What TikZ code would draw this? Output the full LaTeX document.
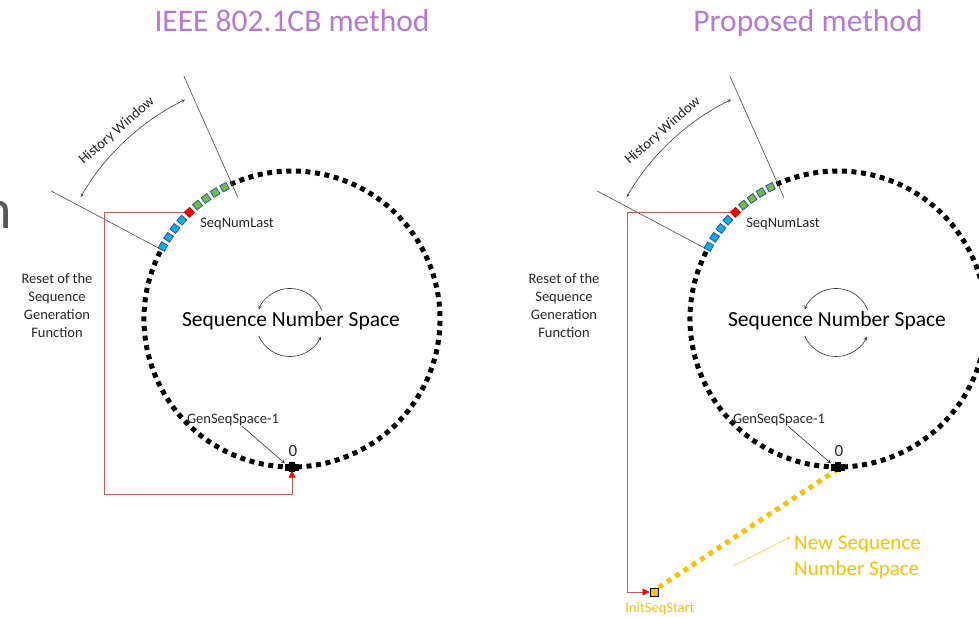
\documentclass[tikz,border=0pt]{standalone}
\usepackage{fontspec}
\setmainfont{Carlito}
\usetikzlibrary{arrows.meta}

\definecolor{titlepurple}{RGB}{180,120,215}
\definecolor{seqblue}{RGB}{0,176,240}
\definecolor{seqgreen}{RGB}{112,190,70}
\definecolor{sqborder}{RGB}{47,85,151}
\definecolor{resetred}{RGB}{205,90,90}
\definecolor{newgold}{RGB}{255,192,0}

\tikzset{ring/.style={line width=5pt,dash pattern=on 5pt off 4.6pt}}
\tikzset{bluesq/.style={draw=sqborder,fill=seqblue,line width=0.8pt,minimum size=7pt,inner sep=0pt}}
\tikzset{greensq/.style={bluesq,fill=seqgreen}}
\tikzset{redsq/.style={draw=red!80!black,fill=red,line width=0.8pt,minimum size=7pt,inner sep=0pt}}
\tikzset{lbl/.style={font=\fontsize{14.5}{18}\selectfont,text=black!85,inner sep=0pt}}
\tikzset{headline/.style={font=\fontsize{31.5}{36}\selectfont,text=titlepurple,anchor=base}}
\tikzset{spacelbl/.style={font=\fontsize{21.5}{26}\selectfont,text=black,inner sep=0pt}}
\tikzset{ptr/.style={draw=black!80,line width=0.6pt,-stealth}}
\tikzset{winarrow/.style={draw=black!75,line width=0.6pt,stealth-stealth}}
\tikzset{radialline/.style={draw=black!70,line width=0.6pt}}
\tikzset{zerobar/.style={fill=black,minimum width=14pt,minimum height=7pt,inner sep=0pt}}
\tikzset{resetline/.style={draw=resetred,line width=0.8pt,-{Triangle[length=7pt,width=7pt,color=red]}}}
\tikzset{newspace/.style={draw=newgold,line width=5pt,dash pattern=on 5pt off 5pt}}
\tikzset{initsq/.style={draw=black,fill=newgold,line width=1pt,minimum size=8pt,inner sep=0pt}}
\tikzset{goldlbl/.style={font=\fontsize{21}{26}\selectfont,text=newgold,align=left,inner sep=0pt}}

\begin{document}
\begin{tikzpicture}[x=1pt,y=1pt]
  \useasboundingbox (0,0) rectangle (979,616);
  \node[font=\fontsize{56}{60}\selectfont,text=black!65,anchor=base east,inner sep=0pt] (cutn) at (12.5,387) {n};
  \node[headline] (titleL) at (292,584) {IEEE 802.1CB method};
  \node[headline] (titleR) at (808,584) {Proposed method};

  % left: IEEE 802.1CB
  \begin{scope}[shift={(292,297)}]
    \draw[ring] (153:148) arc[start angle=153,end angle=475,radius=148];
    \foreach \a in {150.7,146.5,142.3,138.1}
      \node[bluesq,rotate=\a] at (\a:148) {};
    \node[redsq,rotate=133.9] (redL) at (133.9:148) {};
    \foreach \a in {129.7,125.5,121.3,117.1}
      \node[greensq,rotate=\a] at (\a:148) {};
    \draw[radialline] (152:150) -- (152:273);
    \draw[radialline] (114:133) -- (114:266);
    \draw[winarrow] (150:244) arc[start angle=150,end angle=116,radius=244];
    \node[lbl,rotate=41] (histL) at (133:257) {History Window};
    \node[lbl] (lastL) at (-55,95) {SeqNumLast};
    \node[spacelbl] (spaceL) at (-1,-2) {Sequence Number Space};
    \draw[ptr] (-2,-3.5) ++(21:34) arc[start angle=21,end angle=157,radius=34];
    \draw[ptr] (-2,-3.5) ++(203:34) arc[start angle=203,end angle=335,radius=34];
    \node[zerobar] (zL) at (0,-148) {};
    \fill ([xshift=-3pt,yshift=-5pt]zL.center) rectangle ([xshift=3pt,yshift=5pt]zL.center);
    \node[lbl,font=\fontsize{17}{20}\selectfont] (zlblL) at (1,-132) {0};
    \node[lbl] (genL) at (-59,-101) {GenSeqSpace-1};
    \draw[ptr] ([xshift=9pt]genL.south) -- (zL.north west);
    \node[lbl,align=center] (resetL) at (-235,13) {Reset of the\\Sequence\\Generation\\Function};
    \coordinate (rcL) at (-188,-175);
    \draw[resetline] (redL) -| (rcL) -| (zL.south);
  \end{scope}

  % right: proposed
  \begin{scope}[shift={(838,297)}]
    \draw[ring] (153:148) arc[start angle=153,end angle=475,radius=148];
    \foreach \a in {150.7,146.5,142.3,138.1}
      \node[bluesq,rotate=\a] at (\a:148) {};
    \node[redsq,rotate=133.9] (redR) at (133.9:148) {};
    \foreach \a in {129.7,125.5,121.3,117.1}
      \node[greensq,rotate=\a] at (\a:148) {};
    \draw[radialline] (152:150) -- (152:273);
    \draw[radialline] (114:133) -- (114:266);
    \draw[winarrow] (150:244) arc[start angle=150,end angle=116,radius=244];
    \node[lbl,rotate=41] (histR) at (133:257) {History Window};
    \node[lbl] (lastR) at (-55,95) {SeqNumLast};
    \node[spacelbl] (spaceR) at (-1,-2) {Sequence Number Space};
    \draw[ptr] (-2,-3.5) ++(21:34) arc[start angle=21,end angle=157,radius=34];
    \draw[ptr] (-2,-3.5) ++(203:34) arc[start angle=203,end angle=335,radius=34];
    \node[initsq] (initR) at (-184,-273) {};
    \draw[newspace] (0,-150) -- (initR.north east);
    \node[zerobar] (zR) at (0,-148) {};
    \fill ([xshift=-3pt,yshift=-5pt]zR.center) rectangle ([xshift=3pt,yshift=5pt]zR.center);
    \node[initsq] at (initR) {};
    \node[lbl,font=\fontsize{17}{20}\selectfont] (zlblR) at (1,-132) {0};
    \node[lbl] (genR) at (-59,-101) {GenSeqSpace-1};
    \draw[ptr] ([xshift=9pt]genR.south) -- (zR.north west);
    \node[lbl,align=center] (resetR) at (-274,13) {Reset of the\\Sequence\\Generation\\Function};
    \coordinate (rcR) at (-211,-273);
    \draw[resetline] (redR) -| (rcR) -- (initR.west);
    \node[lbl,text=newgold] (initlbl) at (-178,-290) {InitSeqStart};
    \node[goldlbl,anchor=west] (nslbl) at (-44,-238) {New Sequence\\Number Space};
    \coordinate (nsA) at (-105,-247);
    \draw[draw=newgold!80,line width=0.6pt,-stealth,shorten >=4pt] (nsA) -- (nslbl.north west);
  \end{scope}
\end{tikzpicture}
\end{document}
